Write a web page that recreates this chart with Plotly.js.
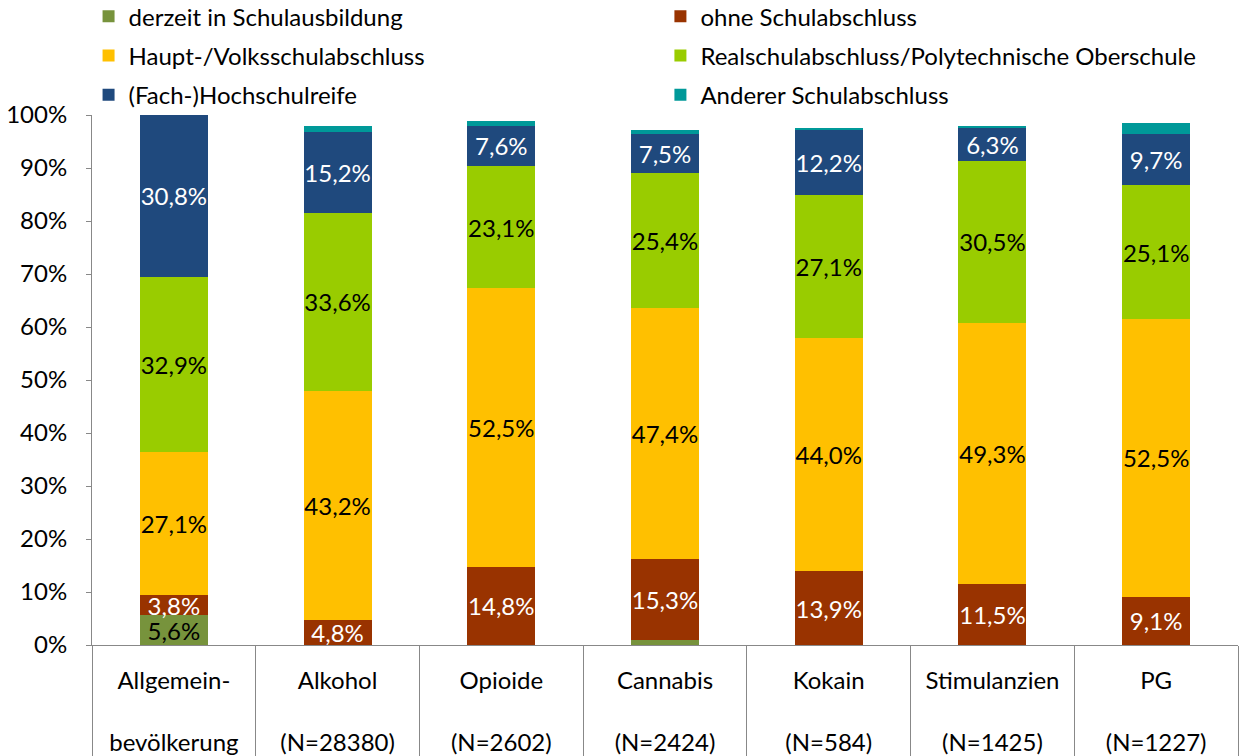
<!DOCTYPE html>
<html>
<head>
<meta charset="utf-8">
<script src="https://cdn.plot.ly/plotly-3.0.1.min.js"></script>
<style>html,body{margin:0;padding:0;background:#fff;}#chart{width:1239px;height:756px;}</style>
</head>
<body>
<div id="chart"></div>
<script>
const categories = [
  "Allgemein-<br><br>bevölkerung",
  "Alkohol<br><br>(N=28380)",
  "Opioide<br><br>(N=2602)",
  "Cannabis<br><br>(N=2424)",
  "Kokain<br><br>(N=584)",
  "Stimulanzien<br><br>(N=1425)",
  "PG<br><br>(N=1227)"
];
const derzeit  = [5.6, 0.0, 0.0, 0.9, 0.0, 0.0, 0.0];
const ohne     = [3.8, 4.8, 14.8, 15.3, 13.9, 11.5, 9.1];
const haupt    = [27.1, 43.2, 52.5, 47.4, 44.0, 49.3, 52.5];
const real     = [32.9, 33.6, 23.1, 25.4, 27.1, 30.5, 25.1];
const hoch     = [30.8, 15.2, 7.6, 7.5, 12.2, 6.3, 9.7];
const anderer  = [0.0, 1.1, 0.9, 0.6, 0.4, 0.4, 2.1];
const yTicks = [0,10,20,30,40,50,60,70,80,90,100];

const FONT = "Lato, 'Open Sans', sans-serif";
const FS = 24;
function lbl(arr){ return arr.map(v => v >= 3 ? v.toFixed(1).replace('.', ',') + '%' : ''); }

function tr(name, vals, color, txtColor, legend, group){
  return {
    type: 'bar', name: name, x: categories, y: vals,
    marker: {color: color},
    legend: legend, legendgroup: group,
    text: lbl(vals), textposition: 'inside', insidetextanchor: 'middle',
    constraintext: 'none', textangle: 0,
    textfont: {family: FONT, size: FS, color: txtColor},
    hoverinfo: 'name+y'
  };
}

const data = [
  tr('derzeit in Schulausbildung', derzeit, '#77933C', '#000', 'legend', 'a'),
  tr('ohne Schulabschluss', ohne, '#993300', '#fff', 'legend2', 'b'),
  tr('Haupt-/Volksschulabschluss', haupt, '#FFC000', '#000', 'legend', 'c'),
  tr('Realschulabschluss/Polytechnische Oberschule', real, '#99CC00', '#000', 'legend2', 'd'),
  tr('(Fach-)Hochschulreife', hoch, '#1F497D', '#fff', 'legend', 'e'),
  tr('Anderer Schulabschluss', anderer, '#009999', '#fff', 'legend2', 'f')
];

const legBase = {
  orientation: 'v', yanchor: 'top', xanchor: 'left',
  bgcolor: 'rgba(0,0,0,0)', borderwidth: 0,
  font: {family: FONT, size: FS, color: '#000'},
  traceorder: 'grouped', tracegroupgap: 5, itemclick: false
};

const layout = {
  width: 1239, height: 756,
  margin: {l: 92, r: 1, t: 115, b: 111, autoexpand: false},
  barmode: 'stack', bargap: 0.585,
  paper_bgcolor: '#fff', plot_bgcolor: '#fff',
  font: {family: FONT, size: FS, color: '#000'},
  showlegend: true,
  legend: Object.assign({}, legBase, {x: -0.003, y: 1.228}),
  legend2: Object.assign({}, legBase, {x: 0.496, y: 1.228}),
  xaxis: {
    type: 'category', tickson: 'boundaries', ticks: 'outside', ticklen: 111,
    tickcolor: '#888', tickwidth: 1, ticklabelstandoff: 14,
    showline: true, linecolor: '#888', linewidth: 1,
    tickfont: {family: FONT, size: FS, color: '#000'},
    showgrid: false, fixedrange: true, automargin: false
  },
  yaxis: {
    range: [0, 100], tickvals: yTicks, ticktext: yTicks.map(v => v + '%'),
    ticks: 'outside', ticklen: 5, tickcolor: '#888', ticklabelstandoff: 14,
    showline: true, linecolor: '#888', linewidth: 1,
    showgrid: false, zeroline: false,
    tickfont: {family: FONT, size: FS, color: '#000'},
    fixedrange: true, automargin: false
  }
};

Plotly.newPlot('chart', data, layout, {displayModeBar: false, staticPlot: true});
</script>
</body>
</html>
